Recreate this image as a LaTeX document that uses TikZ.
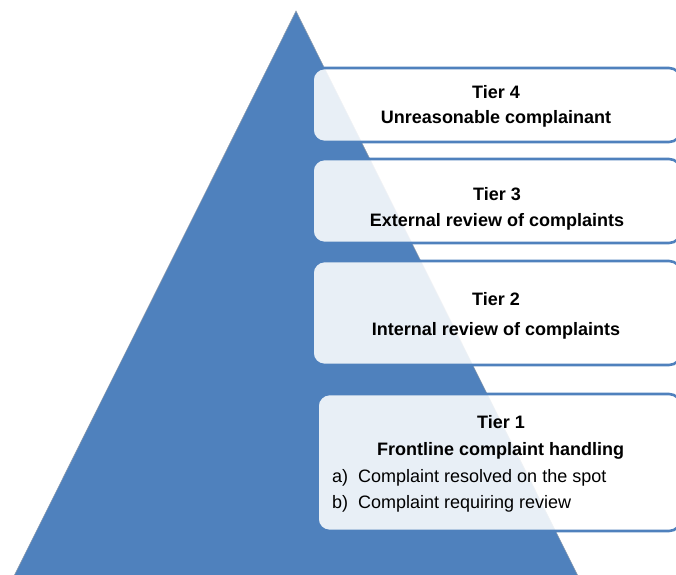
\documentclass[tikz,border=0pt]{standalone}
\usepackage{fontspec}
\setmainfont{Liberation Sans}
\definecolor{tblue}{HTML}{4F81BD}
\definecolor{tedge}{HTML}{8E9AAA}
\begin{document}
\begin{tikzpicture}[x=1pt,y=-1pt,
  tierbox/.style={draw=tblue,line width=2.6pt,fill=white,fill opacity=0.875,rounded corners=12pt},
  head/.style={anchor=base,font=\fontsize{18}{21}\selectfont\bfseries,inner sep=0pt},
  item/.style={anchor=base west,font=\fontsize{18}{21}\selectfont,inner sep=0pt}]
\useasboundingbox (0,0) rectangle (676,574);
\clip (0,0) rectangle (676,574);
% pyramid
\fill[tblue,draw=tedge,line width=0.5pt] (296,11) -- (590,600) -- (2,600) -- cycle;
% boxes
\draw[tierbox] (312.5,68) rectangle (681,142);
\draw[tierbox] (312.5,159) rectangle (681,243);
\draw[tierbox] (312.5,261) rectangle (681,365);
\draw[tierbox] (317.5,394) rectangle (681,531);
% texts
\node[head] (t4a) at (496,98) {Tier 4};
\node[head] (t4b) at (496,123) {Unreasonable complainant};
\node[head] (t3a) at (497,200) {Tier 3};
\node[head] (t3b) at (497,226) {External review of complaints};
\node[head] (t2a) at (496,305) {Tier 2};
\node[head] (t2b) at (496,335) {Internal review of complaints};
\node[head] (t1a) at (501,428) {Tier 1};
\node[head] (t1b) at (500.5,455) {Frontline complaint handling};
\node[item] (ia) at (332,482) {a)};
\node[item] (iat) at (358,482) {Complaint resolved on the spot};
\node[item] (ib) at (332,508) {b)};
\node[item] (ibt) at (358,508) {Complaint requiring review};
\end{tikzpicture}
\end{document}
